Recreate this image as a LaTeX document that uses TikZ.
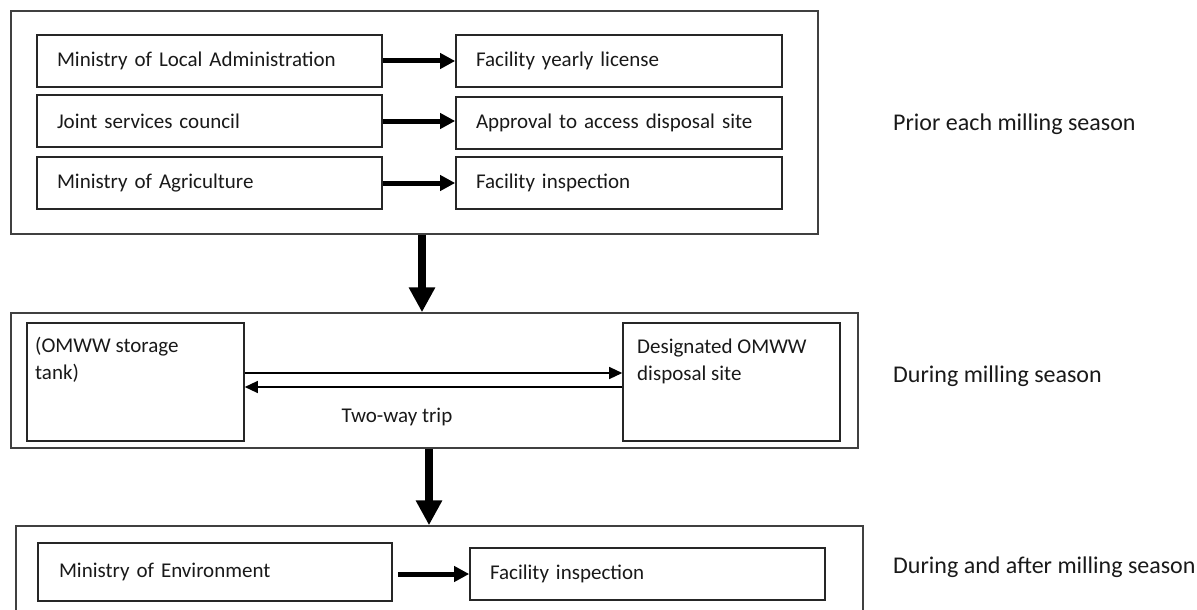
\documentclass[tikz,border=0pt]{standalone}
\usepackage{fontspec}
\setmainfont{Carlito}
\usetikzlibrary{arrows.meta}

\begin{document}
\begin{tikzpicture}
    [
    x=1pt, y=-1pt,
    frame/.style={draw=black!75,line width=1.5pt,rectangle,inner sep=0pt},
    entry/.style={draw=black!85,line width=1.6pt,rectangle,inner ysep=0pt,align=left,text=black!90,font=\fontsize{21}{27}\selectfont},
    note/.style={inner sep=0pt,align=left,text=black!90,font=\fontsize{21}{27}\selectfont},
    phase/.style={anchor=west,inner sep=0pt,text=black!90,font=\fontsize{24}{29}\selectfont},
    link/.style={line width=5pt,-{Triangle[width=15pt,length=15pt]}},
    flow/.style={line width=8pt,-{Triangle[width=25pt,length=25pt]}},
    trip/.style={line width=1.3pt,-{Triangle[width=12pt,length=13pt]}}
    ]
    \useasboundingbox (0,0) rectangle (1197,610);
    % before the season
    \node (prior) at (414.5,122.5) [frame,minimum width=807pt,minimum height=223pt] {};
    \node (mla) at (209.5,61) [entry,minimum width=345pt,minimum height=52pt,inner xsep=20pt,text width=305pt] {Ministry of Local Administration};
    \node (jsc) at (209.5,121) [entry,minimum width=345pt,minimum height=52pt,inner xsep=20pt,text width=305pt] {Joint services council};
    \node (moa) at (209.5,183) [entry,minimum width=345pt,minimum height=52pt,inner xsep=20pt,text width=305pt] {Ministry of Agriculture};
    \node (license) at (619,61) [entry,minimum width=326pt,minimum height=52pt,inner xsep=20pt,text width=286pt] {Facility yearly license};
    \node (approval) at (619,123) [entry,minimum width=326pt,minimum height=52pt,inner xsep=20pt,text width=286pt] {Approval to access disposal site};
    \node (inspect) at (619,183) [entry,minimum width=326pt,minimum height=52pt,inner xsep=20pt,text width=286pt] {Facility inspection};
    \draw [link] (mla) to (license);
    \draw [link] (jsc.east) to (jsc.east -| approval.west);
    \draw [link] (moa) to (inspect);
    \node (priorlbl) at (893,124) [phase] {Prior each milling season};

    % during the season
    \node (during) at (434.5,380.5) [frame,minimum width=847pt,minimum height=135pt] {};
    \node (tank) at (135.5,382) [entry,minimum width=217pt,minimum height=118pt] {};
    \node (site) at (731.5,382) [entry,minimum width=217pt,minimum height=118pt] {};
    \node (tanktxt) at (35,337) [note,anchor=north west] {(OMWW storage\\tank)};
    \node (sitetxt) at (637,339) [note,anchor=north west] {Designated OMWW\\disposal site};
    \draw [trip] ([yshift=9pt]tank.east) to ([yshift=9pt]site.west);
    \draw [trip] ([yshift=-5pt]site.west) to ([yshift=-5pt]tank.east);
    \node (trip) at (397,417) [note] {Two-way trip};
    \node (duringlbl) at (893,376) [phase] {During milling season};

    % during and after the season
    \node (after) at (439.5,572) [frame,minimum width=847pt,minimum height=92pt] {};
    \node (moe) at (215,572) [entry,minimum width=354pt,minimum height=58pt,inner xsep=21pt,text width=312pt] {Ministry of Environment};
    \node (inspect2) at (647.5,574) [entry,minimum width=355pt,minimum height=52pt,inner xsep=20pt,text width=315pt] {Facility inspection};
    \draw [link,shorten <=5pt] (moe.east |- inspect2.west) to (inspect2.west);
    \node (afterlbl) at (893,567) [phase] {During and after milling season};

    \draw [flow] ([xshift=7.5pt]prior.south) to ([xshift=7.5pt]prior.south |- during.north);
    \draw [flow] ([xshift=-5.5pt]during.south) to ([xshift=-5.5pt]during.south |- after.north);
  \end{tikzpicture}
\end{document}
